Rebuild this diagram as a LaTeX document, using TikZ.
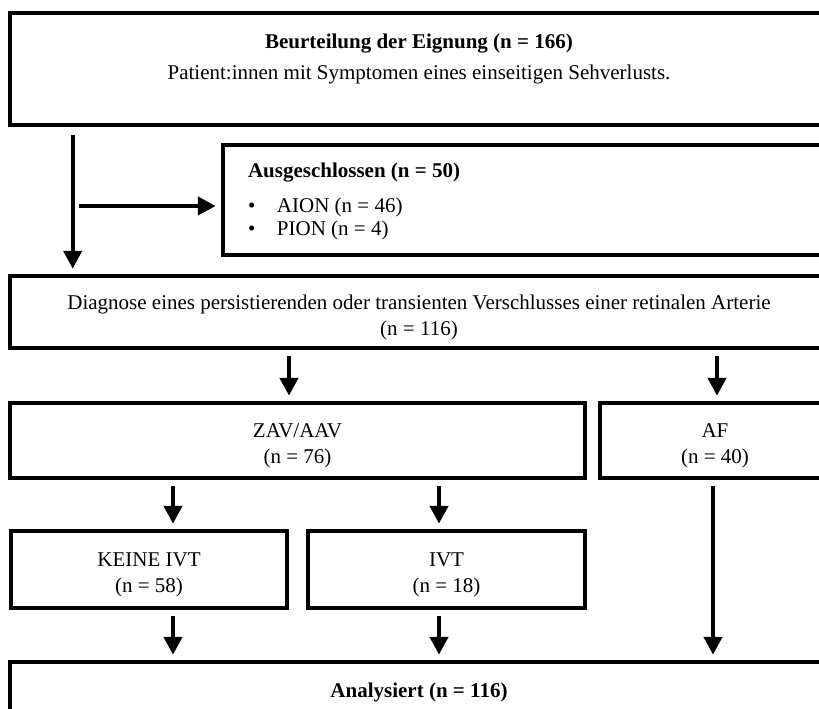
\documentclass[tikz,border=0pt]{standalone}
\usepackage{fontspec}
\setmainfont{Liberation Serif}
\usetikzlibrary{arrows.meta, positioning}
\tikzset{
    base/.style={font=\fontsize{21}{26}\selectfont, inner sep=0pt},
    box/.style={base, rectangle, draw=black, line width=4.5pt, align=center, text height=46pt, text depth=0pt},
    arrow/.style={line width=4.3pt, -{Triangle[width=18pt,length=18pt]}, shorten <=6pt, shorten >=5pt}
}

\begin{document}
\begin{tikzpicture}[x=1pt, y=-1pt]
        \useasboundingbox (0,0) rectangle (819,709);
        \clip (0,0) rectangle (819,709);

        % -- Eignung --
        \node (top) [box, text height=20pt, text depth=0pt, minimum width=818pt, minimum height=112pt] at (419,69)
            {\textbf{Beurteilung der Eignung (n = 166)}\\[5pt]Patient:innen mit Symptomen eines einseitigen Sehverlusts.};
        \node (excl) [box, align=flush left, text width=557pt, inner xsep=25pt, text height=0pt, text depth=46pt, minimum height=110pt] at (526.5,200)
            {\textbf{Ausgeschlossen (n = 50)}\\[9pt]\makebox[29pt][l]{\textbullet}AION (n = 46)\\[-3pt]\makebox[29pt][l]{\textbullet}PION (n = 4)};

        % -- Diagnose --
        \node (diag) [box, minimum width=818pt, minimum height=72pt] at (419,312)
            {Diagnose eines persistierenden oder transienten Verschlusses einer retinalen Arterie\\(n = 116)};
        \node (zav) [box, minimum width=575pt, minimum height=75pt] at (297.5,440.5) {ZAV/AAV\\(n = 76)};
        \node (af) [box, minimum width=230pt, minimum height=75pt] at (715,440.5) {AF\\(n = 40)};

        % -- Therapie --
        \node (keine) [box, minimum width=276pt, minimum height=77pt] at (149,569.5) {KEINE IVT\\(n = 58)};
        \node (ivt) [box, minimum width=277pt, minimum height=77pt] at (446.5,569.5) {IVT\\(n = 18)};
        \node (anal) [box, text height=14pt, text depth=0pt, minimum width=818pt, minimum height=56pt] at (419,690) {\textbf{Analysiert (n = 116)}};

        % Columns
        \coordinate (split) at (72.7,206);
        \coordinate (colA) at (173,0);
        \coordinate (colB) at (439,0);
        \coordinate (colC) at (289,0);
        \coordinate (colD) at (717,0);
        \coordinate (colE) at (713,0);

        % Connectors
        \draw [arrow, shorten <=8pt] (top.south -| split) -- (diag.north -| split);
        \draw [arrow] (split) -- (excl.west |- split);
        \draw [arrow] (diag.south -| colC) -- (zav.north -| colC);
        \draw [arrow] (diag.south -| colD) -- (af.north -| colD);
        \draw [arrow] (zav.south -| colA) -- (keine.north -| colA);
        \draw [arrow] (zav.south -| colB) -- (ivt.north -| colB);
        \draw [arrow] (af.south -| colE) -- (anal.north -| colE);
        \draw [arrow] (keine.south -| colA) -- (anal.north -| colA);
        \draw [arrow] (ivt.south -| colB) -- (anal.north -| colB);
    \end{tikzpicture}
\end{document}
